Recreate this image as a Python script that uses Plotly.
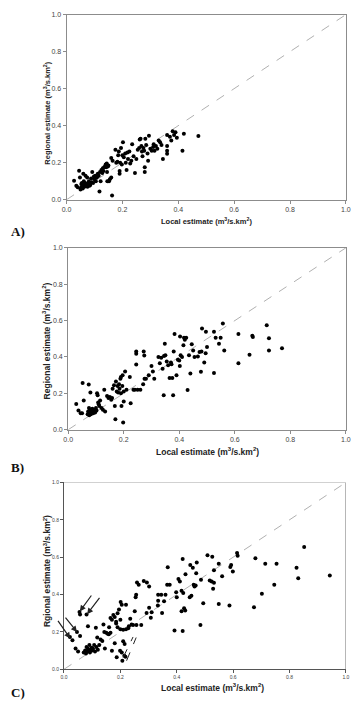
import plotly.graph_objects as go

W, H = 357, 702

# ---------------- data ----------------
a_local = [0.027,0.035,0.04,0.045,0.048,0.05,0.052,0.053,0.055,0.056,0.058,0.06,0.06,0.062,0.064,0.066,0.068,0.07,0.072,0.074,
           0.075,0.078,0.08,0.082,0.085,0.088,0.09,0.092,0.095,0.098,0.1,0.103,0.105,0.108,0.11,0.112,0.115,0.118,0.12,0.122,
           0.125,0.128,0.13,0.132,0.135,0.138,0.14,0.142,0.144,0.145,0.146,0.148,0.15,0.152,0.155,0.16,0.16,0.163,0.165,0.175,
           0.178,0.182,0.185,0.187,0.19,0.19,0.192,0.195,0.198,0.2,0.202,0.205,0.21,0.212,0.215,0.218,0.22,0.225,0.228,0.232,
           0.235,0.24,0.245,0.25,0.255,0.26,0.262,0.265,0.268,0.27,0.272,0.275,0.278,0.28,0.28,0.282,0.285,0.29,0.292,0.295,
           0.3,0.305,0.31,0.312,0.315,0.32,0.325,0.33,0.335,0.34,0.345,0.36,0.36,0.36,0.36,0.37,0.375,0.38,0.385,0.39,
           0.395,0.415,0.42,0.472]
a_regional = [0.103,0.075,0.068,0.157,0.12,0.055,0.065,0.085,0.09,0.075,0.06,0.14,0.08,0.1,0.07,0.09,0.13,0.075,0.085,0.12,
              0.07,0.09,0.1,0.075,0.08,0.115,0.095,0.15,0.09,0.125,0.11,0.13,0.1,0.12,0.125,0.14,0.13,0.045,0.15,0.1,
              0.16,0.145,0.17,0.155,0.175,0.18,0.19,0.175,0.195,0.15,0.1,0.18,0.185,0.1,0.11,0.12,0.225,0.023,0.21,0.27,
              0.2,0.205,0.24,0.26,0.155,0.14,0.2,0.28,0.19,0.24,0.31,0.23,0.25,0.2,0.16,0.255,0.22,0.26,0.195,0.21,
              0.3,0.235,0.145,0.22,0.27,0.28,0.325,0.33,0.29,0.26,0.235,0.28,0.265,0.15,0.175,0.33,0.295,0.25,0.21,0.345,
              0.275,0.265,0.285,0.3,0.265,0.29,0.275,0.32,0.31,0.295,0.22,0.35,0.29,0.265,0.248,0.34,0.32,0.37,0.35,0.365,
              0.335,0.264,0.356,0.344]

b_local = [0.029,0.037,0.045,0.05,0.052,0.056,0.07,0.072,0.074,0.075,0.076,0.078,0.08,0.08,0.082,0.085,0.087,0.09,0.092,0.095,
           0.097,0.1,0.102,0.104,0.106,0.108,0.11,0.112,0.115,0.12,0.125,0.13,0.133,0.14,0.145,0.15,0.155,0.158,0.16,0.165,
           0.168,0.17,0.172,0.175,0.178,0.18,0.183,0.185,0.188,0.19,0.19,0.192,0.195,0.196,0.198,0.2,0.2,0.205,0.21,0.222,
           0.225,0.235,0.24,0.245,0.245,0.245,0.25,0.26,0.27,0.272,0.274,0.275,0.28,0.29,0.3,0.305,0.31,0.325,0.33,0.335,
           0.34,0.344,0.345,0.348,0.35,0.355,0.36,0.365,0.37,0.372,0.375,0.378,0.38,0.383,0.39,0.395,0.4,0.402,0.403,0.405,
           0.41,0.415,0.417,0.42,0.425,0.43,0.435,0.44,0.445,0.45,0.455,0.467,0.473,0.478,0.48,0.482,0.49,0.495,0.496,0.5,
           0.525,0.525,0.531,0.543,0.549,0.557,0.562,0.613,0.613,0.653,0.663,0.665,0.715,0.723,0.723,0.77]
b_regional = [0.142,0.105,0.09,0.09,0.257,0.16,0.085,0.1,0.249,0.12,0.08,0.11,0.205,0.095,0.085,0.1,0.115,0.09,0.105,0.11,
              0.095,0.12,0.105,0.2,0.19,0.15,0.14,0.13,0.16,0.12,0.11,0.22,0.1,0.185,0.175,0.18,0.165,0.175,0.225,0.245,
              0.13,0.058,0.265,0.21,0.24,0.205,0.25,0.225,0.28,0.29,0.2,0.13,0.24,0.3,0.04,0.155,0.21,0.32,0.22,0.29,
              0.145,0.22,0.22,0.358,0.417,0.43,0.22,0.22,0.25,0.43,0.408,0.28,0.28,0.3,0.35,0.32,0.28,0.4,0.365,0.395,
              0.335,0.19,0.405,0.472,0.41,0.375,0.355,0.285,0.37,0.36,0.285,0.19,0.43,0.526,0.3,0.385,0.38,0.35,0.512,0.41,
              0.4,0.465,0.505,0.495,0.505,0.218,0.41,0.309,0.47,0.436,0.4,0.403,0.427,0.318,0.43,0.557,0.37,0.42,0.539,0.455,
              0.539,0.312,0.505,0.472,0.505,0.584,0.436,0.526,0.366,0.412,0.517,0.51,0.575,0.503,0.436,0.448]

c_local = [0.021,0.03,0.041,0.05,0.046,0.057,0.055,0.057,0.08,0.085,0.07,0.075,0.078,0.08,0.082,0.085,0.088,0.09,0.092,0.095,
           0.098,0.1,0.103,0.107,0.11,0.113,0.115,0.118,0.12,0.125,0.13,0.136,0.14,0.143,0.145,0.15,0.155,0.159,0.16,0.165,
           0.165,0.17,0.17,0.175,0.18,0.18,0.185,0.185,0.187,0.19,0.19,0.195,0.199,0.2,0.2,0.201,0.205,0.205,0.207,0.21,
           0.21,0.214,0.215,0.218,0.22,0.22,0.228,0.23,0.235,0.24,0.245,0.251,0.254,0.256,0.257,0.259,0.265,0.274,0.283,0.293,
           0.294,0.302,0.302,0.308,0.311,0.333,0.334,0.334,0.345,0.348,0.355,0.36,0.366,0.368,0.375,0.392,0.398,0.4,0.406,0.411,
           0.417,0.417,0.421,0.421,0.423,0.426,0.43,0.431,0.446,0.448,0.452,0.457,0.46,0.463,0.467,0.469,0.471,0.484,0.486,0.494,
           0.509,0.517,0.524,0.526,0.529,0.532,0.532,0.549,0.549,0.561,0.587,0.59,0.593,0.599,0.614,0.616,0.674,0.679,0.702,0.714,
           0.746,0.754,0.825,0.831,0.852,0.943]
c_regional = [0.173,0.155,0.111,0.095,0.2,0.178,0.307,0.293,0.293,0.231,0.09,0.1,0.085,0.12,0.095,0.11,0.1,0.13,0.09,0.105,
              0.115,0.1,0.11,0.13,0.095,0.223,0.12,0.17,0.105,0.13,0.16,0.152,0.24,0.2,0.111,0.195,0.19,0.187,0.225,0.196,
              0.275,0.099,0.265,0.29,0.28,0.14,0.245,0.255,0.064,0.3,0.225,0.32,0.099,0.215,0.265,0.36,0.346,0.09,0.046,0.212,
              0.15,0.072,0.135,0.067,0.346,0.215,0.22,0.23,0.27,0.24,0.237,0.311,0.385,0.399,0.237,0.465,0.452,0.237,0.473,0.302,
              0.465,0.443,0.329,0.276,0.306,0.341,0.367,0.399,0.399,0.302,0.364,0.399,0.452,0.546,0.452,0.208,0.413,0.385,0.484,0.47,
              0.42,0.311,0.205,0.59,0.408,0.327,0.315,0.509,0.385,0.558,0.394,0.544,0.452,0.443,0.448,0.514,0.572,0.237,0.48,0.353,
              0.611,0.475,0.47,0.602,0.431,0.53,0.463,0.565,0.35,0.498,0.341,0.548,0.558,0.523,0.622,0.608,0.332,0.594,0.405,0.565,
              0.452,0.565,0.544,0.488,0.655,0.502]

# arrows in panel C: (tail_x, tail_y, head_x, head_y) in data units
c_arrows = [(-0.025, 0.267, 0.022, 0.165),
            (0.001, 0.284, 0.046, 0.2),
            (0.101, 0.403, 0.056, 0.31),
            (0.13, 0.39, 0.082, 0.295)]
# dashed bracket lines in panel C
c_dashes = [(0.21, 0.064, 0.245, 0.173),
            (0.222, 0.046, 0.256, 0.17)]

tick_vals = [0.0, 0.2, 0.4, 0.6, 0.8, 1.0]
tick_text = ["0.0", "0.2", "0.4", "0.6", "0.8", "1.0"]

# ---------------- layout helpers ----------------
def px_x(p):
    return p / W

def px_y(p):
    return 1 - p / H

panels = [
    # left, right, top, bottom (pixels)
    dict(l=63.3, r=350.7, t=10.7, b=197.7),
    dict(l=65.0, r=350.7, t=246.3, b=430.0),
    dict(l=60.7, r=350.7, t=483.3, b=672.0),
]

fig = go.Figure()
datasets = [(a_local, a_regional), (b_local, b_regional), (c_local, c_regional)]
for i, (xs, ys) in enumerate(datasets):
    sfx = "" if i == 0 else str(i + 1)
    fig.add_trace(go.Scatter(x=[0, 1], y=[0, 1], mode="lines",
                             line=dict(color="#b0b0b0", width=1, dash="dash"),
                             xaxis="x" + sfx, yaxis="y" + sfx, showlegend=False, hoverinfo="skip"))
    fig.add_trace(go.Scatter(x=xs, y=ys, mode="markers",
                             marker=dict(color="black", size=4, symbol="circle"),
                             xaxis="x" + sfx, yaxis="y" + sfx, showlegend=False))

layout = dict(width=W, height=H, margin=dict(l=0, r=0, t=0, b=0),
              paper_bgcolor="white", plot_bgcolor="white",
              font=dict(family="Arial, Liberation Sans, sans-serif", color="#333"))

tick_sizes = [7, 7, 5]
for i, p in enumerate(panels):
    sfx = "" if i == 0 else str(i + 1)
    line_col = "#8c8c8c" if i < 2 else "#555555"
    mirror = True if i < 2 else False
    layout["xaxis" + sfx] = dict(domain=[px_x(p["l"]), px_x(p["r"])], range=[0, 1],
                                 anchor="y" + sfx, showgrid=False, zeroline=False,
                                 showline=True, linecolor=line_col, linewidth=1, mirror=mirror,
                                 ticks="outside", ticklen=3, tickcolor=line_col,
                                 tickvals=tick_vals, ticktext=tick_text,
                                 tickfont=dict(size=tick_sizes[i], color="#444"))
    layout["yaxis" + sfx] = dict(domain=[px_y(p["b"]), px_y(p["t"])], range=[0, 1],
                                 anchor="x" + sfx, showgrid=False, zeroline=False,
                                 showline=True, linecolor=line_col, linewidth=1, mirror=mirror,
                                 ticks="outside", ticklen=3, tickcolor=line_col,
                                 tickvals=tick_vals, ticktext=tick_text,
                                 tickfont=dict(size=tick_sizes[i], color="#444"))

fig.update_layout(**layout)

# gray top/right border for panel C
fig.add_shape(type="line", xref="x3", yref="y3", x0=0, y0=1, x1=1, y1=1,
              line=dict(color="#a0a0a0", width=1))
fig.add_shape(type="line", xref="x3", yref="y3", x0=1, y0=0, x1=1, y1=1,
              line=dict(color="#a0a0a0", width=1.5))

for (x0, y0, x1, y1) in c_dashes:
    fig.add_shape(type="line", xref="x3", yref="y3", x0=x0, y0=y0, x1=x1, y1=y1,
                  line=dict(color="#222", width=1, dash="dash"))

for (tx, ty, hx, hy) in c_arrows:
    fig.add_annotation(x=hx, y=hy, ax=tx, ay=ty, xref="x3", yref="y3", axref="x3", ayref="y3",
                       text="", showarrow=True, arrowhead=2, arrowsize=1, arrowwidth=1.2,
                       arrowcolor="#222")

# axis titles
ylabels = ["Regional estimate (m<sup>3</sup>/s.km<sup>2</sup>)",
           "Regional estimate (m<sup>3</sup>/s.km<sup>2</sup>)",
           "Rgional estimate (m<sup>3</sup>/s.km<sup>2</sup>)"]
xlabel = "Local estimate (m<sup>3</sup>/s.km<sup>2</sup>)"
title_sizes = [7.5, 8.5, 8.5]
xt_pos = [(207, 219), (208, 451.7), (213, 690.7)]
yt_pos = [(43, 110), (43, 340), (43, 573)]
for i in range(3):
    fig.add_annotation(x=px_x(xt_pos[i][0]), y=px_y(xt_pos[i][1]), xref="paper", yref="paper",
                       text="<b>" + xlabel + "</b>", showarrow=False,
                       font=dict(size=title_sizes[i], color="#222"), xanchor="center", yanchor="middle")
    fig.add_annotation(x=px_x(yt_pos[i][0]), y=px_y(yt_pos[i][1]), xref="paper", yref="paper",
                       text="<b>" + ylabels[i] + "</b>", showarrow=False, textangle=-90,
                       font=dict(size=title_sizes[i], color="#222"), xanchor="center", yanchor="middle")

# panel letters
letters = [("A)", 230), ("B)", 468), ("C)", 695)]
for txt, py in letters:
    fig.add_annotation(x=px_x(4), y=px_y(py), xref="paper", yref="paper", text="<b>" + txt + "</b>",
                       showarrow=False, xanchor="left", yanchor="middle",
                       font=dict(family="Liberation Serif, Times New Roman, serif", size=13, color="#111"))

fig.write_html("out.html")
